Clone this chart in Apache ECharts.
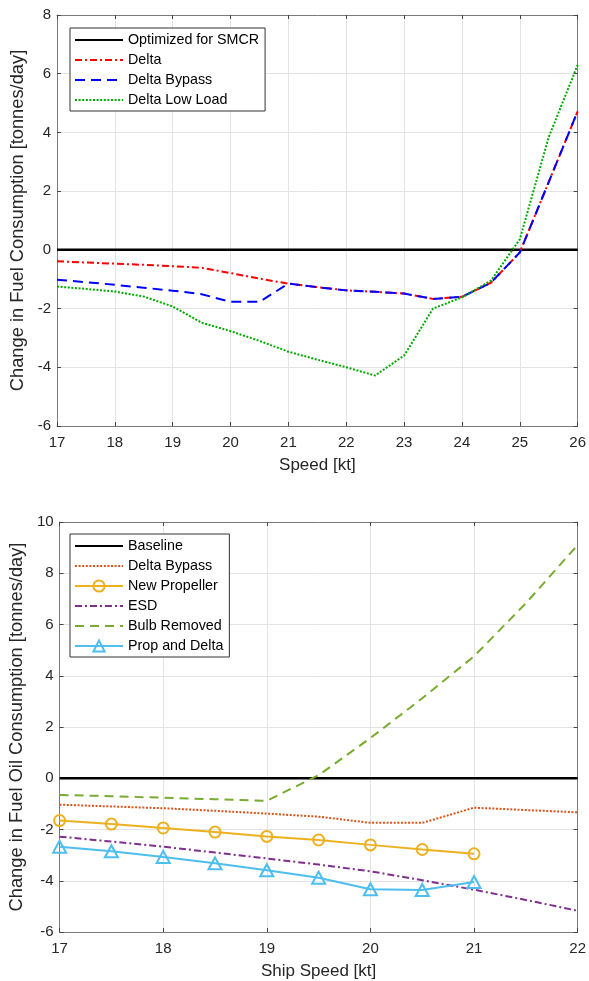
<!DOCTYPE html>
<html>
<head>
<meta charset="utf-8">
<script src="https://cdn.jsdelivr.net/npm/echarts@6/dist/echarts.min.js"></script>
<style>
html,body{margin:0;padding:0;background:#fff;}
#c{width:589px;height:981px;}
</style>
</head>
<body>
<div id="c"></div>
<script>
// ---- Top chart data ----
var speedTop = [17,17.5,18,18.5,19,19.5,20,20.5,21,21.5,22,22.5,23,23.5,24,24.5,25,25.5,26];
var optimizedTop = [0,0,0,0,0,0,0,0,0,0,0,0,0,0,0,0,0,0,0];
var deltaTop = [-0.39,-0.43,-0.47,-0.51,-0.56,-0.61,-0.79,-0.98,-1.15,-1.27,-1.38,-1.43,-1.49,-1.67,-1.60,-1.12,-0.09,2.31,4.72];
var deltaBypassTop = [-1.02,-1.10,-1.19,-1.29,-1.39,-1.51,-1.77,-1.77,-1.15,-1.27,-1.38,-1.43,-1.49,-1.67,-1.60,-1.12,-0.09,2.31,4.72];
var deltaLowLoadTop = [-1.25,-1.33,-1.42,-1.59,-1.93,-2.48,-2.77,-3.10,-3.47,-3.74,-4.00,-4.28,-3.60,-2.00,-1.62,-1.05,0.36,3.84,6.30];
var topNames = ['Optimized for SMCR','Delta','Delta Bypass','Delta Low Load'];
var topXTicks = [17,26,1];
var topYTicks = [-6,8,2];

// ---- Bottom chart data ----
var speedBot = [17,17.5,18,18.5,19,19.5,20,20.5,21,21.5,22];
var baselineBot = [0,0,0,0,0,0,0,0,0,0,0];
var deltaBypassBot = [-1.03,-1.10,-1.17,-1.27,-1.38,-1.50,-1.74,-1.74,-1.15,-1.24,-1.33];
var speedProp = [17,17.5,18,18.5,19,19.5,20,20.5,21];
var newPropellerBot = [-1.65,-1.79,-1.94,-2.10,-2.27,-2.41,-2.60,-2.78,-2.95];
var esdBot = [-2.28,-2.47,-2.67,-2.90,-3.13,-3.37,-3.63,-3.98,-4.35,-4.75,-5.17];
var bulbRemovedBot = [-0.65,-0.70,-0.76,-0.82,-0.88,0.12,1.57,3.12,4.76,6.83,9.10];
var propDeltaBot = [-2.67,-2.85,-3.07,-3.32,-3.59,-3.88,-4.33,-4.36,-4.05];
var botNames = ['Baseline','Delta Bypass','New Propeller','ESD','Bulb Removed','Prop and Delta'];
var botXTicks = [17,22,1];
var botYTicks = [-6,10,2];

function pairs(xs, ys){ return xs.map(function(x,i){ return [x, ys[i]]; }); }

var FONT = "'Liberation Sans', Arial, Helvetica, sans-serif";
var TXT = '#262626';
var AXC = '#7a7a7a';
var GRIDC = '#e3e3e3';

// series ids must be unique across both charts; bottom names get a suffix stripped in legend text
var SUF = ' #2';
function botId(n){ return n + SUF; }

function xAx(grid, t, name, pos){
  var main = pos === 'bottom';
  return {
    type:'value', gridIndex:grid, position:pos, min:t[0], max:t[1], interval:t[2],
    name: main ? name : '', nameLocation:'middle', nameGap:31,
    nameTextStyle:{fontFamily:FONT, fontSize:17, color:TXT},
    axisLine:{show:true, onZero:false, lineStyle:{color:AXC, width:1}},
    axisTick:{show:true, inside:true, length:4, lineStyle:{color:'#444', width:1}},
    axisLabel:{show:main, fontFamily:FONT, fontSize:15, color:TXT, margin:9, showMinLabel:true, showMaxLabel:true},
    splitLine:{show:main, lineStyle:{color:GRIDC, width:1}}
  };
}
function yAx(grid, t, name, pos){
  var main = pos === 'left';
  return {
    type:'value', gridIndex:grid, position:pos, min:t[0], max:t[1], interval:t[2],
    name: main ? name : '', nameLocation:'middle', nameGap:27,
    nameTextStyle:{fontFamily:FONT, fontSize:18.3, color:TXT},
    axisLine:{show:true, onZero:false, lineStyle:{color:AXC, width:1}},
    axisTick:{show:true, inside:true, length:4, lineStyle:{color:'#444', width:1}},
    axisLabel:{show:main, fontFamily:FONT, fontSize:15, color:TXT, margin:6, showMinLabel:true, showMaxLabel:true},
    splitLine:{show:main, lineStyle:{color:GRIDC, width:1}}
  };
}

function lineSeries(name, xi, yi, data, color, width, type, extra){
  var s = {
    name:name, type:'line', xAxisIndex:xi, yAxisIndex:yi, data:data,
    symbol:'none', showSymbol:false, animation:false, silent:true,
    itemStyle:{color:color},
    lineStyle:{color:color, width:width, type:type, cap:'butt'}
  };
  if (extra) for (var k in extra) s[k] = extra[k];
  return s;
}

function legendItems(names, withSymbol, mapName){
  return names.map(function(n){
    var it = {name: mapName ? mapName(n) : n};
    if (withSymbol.indexOf(n) < 0) it.itemStyle = {opacity:0};
    return it;
  });
}

var legendCommon = {
  orient:'vertical', itemWidth:48, itemHeight:14, itemGap:6,
  padding:[5,6,4,4], backgroundColor:'#fff', borderColor:'#333', borderWidth:1, borderRadius:0,
  textStyle:{fontFamily:FONT, fontSize:14.3, color:'#000'},
  selectedMode:false,
  formatter:function(n){ return n.replace(SUF, ''); }
};

var option = {
  animation:false,
  backgroundColor:'#fff',
  grid:[
    {left:57, right:11, top:15, height:411},
    {left:56, right:11, top:522, height:411}
  ],
  xAxis:[
    xAx(0, topXTicks, 'Speed [kt]', 'bottom'),
    xAx(0, topXTicks, '', 'top'),
    xAx(1, botXTicks, 'Ship Speed [kt]', 'bottom'),
    xAx(1, botXTicks, '', 'top')
  ],
  yAxis:[
    yAx(0, topYTicks, 'Change in Fuel Consumption [tonnes/day]', 'left'),
    yAx(0, topYTicks, '', 'right'),
    yAx(1, botYTicks, 'Change in Fuel Oil Consumption [tonnes/day]', 'left'),
    yAx(1, botYTicks, '', 'right')
  ],
  legend:[
    Object.assign({left:70, top:28, data:legendItems(topNames, [])}, legendCommon),
    Object.assign({left:70, top:534, data:legendItems(botNames, ['New Propeller','Prop and Delta'], botId)}, legendCommon)
  ],
  series:[
    lineSeries(topNames[0], 0, 0, pairs(speedTop, optimizedTop), '#000000', 2.5, 'solid'),
    lineSeries(topNames[1], 0, 0, pairs(speedTop, deltaTop), '#ff0000', 2, [7,3,2,3]),
    lineSeries(topNames[2], 0, 0, pairs(speedTop, deltaBypassTop), '#0000ff', 2, [10,6]),
    lineSeries(topNames[3], 0, 0, pairs(speedTop, deltaLowLoadTop), '#00a800', 2, [2,1.6]),

    lineSeries(botId(botNames[0]), 2, 2, pairs(speedBot, baselineBot), '#000000', 2.5, 'solid'),
    lineSeries(botId(botNames[1]), 2, 2, pairs(speedBot, deltaBypassBot), '#D95319', 2, [2,1.6]),
    lineSeries(botId(botNames[2]), 2, 2, pairs(speedProp, newPropellerBot), '#EDB120', 2, 'solid',
      {symbol:'circle', showSymbol:true, symbolSize:11,
       itemStyle:{color:'rgba(255,255,255,0)', borderColor:'#EDB120', borderWidth:2}}),
    lineSeries(botId(botNames[3]), 2, 2, pairs(speedBot, esdBot), '#7E2F8E', 2, [7,3,2,3]),
    lineSeries(botId(botNames[4]), 2, 2, pairs(speedBot, bulbRemovedBot), '#77AC30', 2, [9,6]),
    lineSeries(botId(botNames[5]), 2, 2, pairs(speedProp, propDeltaBot), '#4DBEEE', 2, 'solid',
      {symbol:'triangle', showSymbol:true, symbolSize:[13,12],
       itemStyle:{color:'rgba(255,255,255,0)', borderColor:'#4DBEEE', borderWidth:2}})
  ]
};

var chart = echarts.init(document.getElementById('c'), null, {renderer:'canvas'});
chart.setOption(option);
</script>
</body>
</html>
